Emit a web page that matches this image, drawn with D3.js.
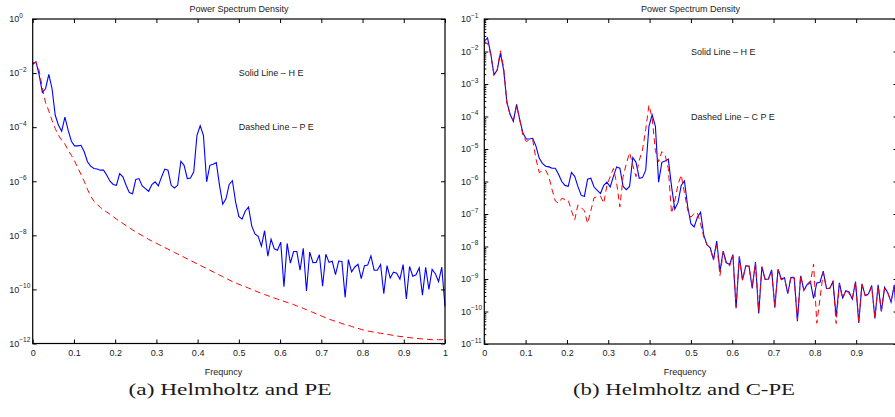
<!DOCTYPE html>
<html lang="en">
<head>
<meta charset="UTF-8"/>
<title>Power Spectrum Density</title>
<script src="https://cdnjs.cloudflare.com/ajax/libs/d3/7.8.5/d3.min.js"></script>
<style>
	body { margin: 0; background: #fff; }
	svg text { font-family: "Liberation Sans", Arial, sans-serif; fill: #222; }
	svg text.caption { font-family: "Liberation Serif", "DejaVu Serif", serif; fill: #1a1a1a; }
</style>
</head>
<body>
<script>

var w = 895;
var h = 417;

// frequency bins 0..1 (129 bins)
var nBins = 129;
var freq = d3.range(nBins).map(function(i){ return i / (nBins - 1); });

// log10 of the PSD values
var heLog = [
	-1.68,-1.58,-2.07,-2.72,-2.57,-2.05,-2.57,-3.56,-3.93,-4.15,
	-3.63,-4.11,-4.52,-4.69,-4.69,-4.67,-4.91,-5.28,-5.44,-5.53,
	-5.55,-5.59,-5.59,-5.78,-6.00,-6.12,-6.15,-5.72,-5.84,-6.15,
	-6.42,-6.46,-5.93,-5.90,-6.17,-6.27,-6.37,-6.12,-6.02,-6.17,
	-5.84,-5.55,-5.59,-6.15,-6.25,-6.15,-5.26,-5.41,-5.90,-5.88,
	-5.65,-4.30,-3.95,-4.30,-6.02,-5.41,-5.37,-5.31,-6.15,-6.85,
	-6.65,-6.12,-5.98,-6.77,-7.30,-7.40,-7.10,-6.95,-7.65,-7.95,
	-8.04,-8.40,-7.83,-8.77,-8.14,-8.50,-8.55,-8.25,-9.90,-8.30,
	-9.03,-8.60,-8.60,-9.29,-8.48,-10.06,-8.62,-9.01,-9.00,-8.72,
	-9.88,-8.70,-9.00,-8.96,-9.45,-8.95,-8.97,-10.30,-8.90,-9.35,
	-9.17,-9.07,-9.60,-9.12,-9.10,-8.76,-9.29,-9.29,-9.08,-10.16,
	-9.12,-9.58,-9.36,-9.40,-9.62,-9.08,-10.35,-9.15,-9.51,-9.46,
	-9.20,-10.21,-9.18,-10.00,-9.26,-9.42,-9.71,-9.18,-10.63
];

var peLog = [
	-1.62,-1.60,-1.90,-2.55,-3.10,-3.40,-3.75,-4.05,-4.30,-4.48,
	-4.62,-4.85,-5.04,-5.25,-5.50,-5.75,-6.00,-6.30,-6.55,-6.74,
	-6.85,-6.97,-7.06,-7.14,-7.22,-7.31,-7.40,-7.48,-7.56,-7.64,
	-7.72,-7.80,-7.87,-7.94,-8.01,-8.08,-8.15,-8.21,-8.27,-8.33,
	-8.39,-8.45,-8.51,-8.57,-8.63,-8.69,-8.75,-8.81,-8.87,-8.93,
	-8.99,-9.05,-9.11,-9.17,-9.23,-9.29,-9.35,-9.41,-9.47,-9.53,
	-9.59,-9.65,-9.71,-9.76,-9.81,-9.86,-9.90,-9.95,-10.00,-10.05,
	-10.10,-10.14,-10.19,-10.23,-10.28,-10.32,-10.36,-10.40,-10.44,-10.48,
	-10.52,-10.56,-10.61,-10.65,-10.70,-10.75,-10.80,-10.85,-10.90,-10.95,
	-11.00,-11.05,-11.10,-11.14,-11.18,-11.22,-11.26,-11.30,-11.33,-11.37,
	-11.41,-11.44,-11.48,-11.51,-11.54,-11.56,-11.58,-11.60,-11.62,-11.64,
	-11.66,-11.68,-11.70,-11.72,-11.74,-11.75,-11.77,-11.78,-11.80,-11.81,
	-11.82,-11.83,-11.84,-11.85,-11.86,-11.86,-11.86,-11.86,-11.85
];

var cpeLog = [
	-1.77,-1.74,-2.10,-2.72,-2.55,-1.98,-2.50,-3.59,-3.95,-4.11,
	-3.68,-4.10,-4.60,-4.77,-4.72,-4.72,-5.30,-5.72,-5.68,-5.65,
	-5.85,-6.25,-6.60,-6.67,-6.52,-6.55,-6.57,-6.90,-7.18,-6.72,
	-6.80,-6.90,-7.29,-6.90,-6.50,-6.47,-6.45,-6.67,-6.11,-5.85,
	-5.60,-6.05,-6.78,-5.85,-5.45,-5.11,-5.50,-5.85,-5.35,-5.03,
	-4.40,-3.65,-4.05,-5.05,-5.39,-5.08,-5.18,-5.60,-6.98,-6.60,
	-6.10,-5.80,-6.35,-6.88,-7.10,-6.98,-6.96,-7.30,-7.72,-7.95,
	-8.06,-8.42,-7.90,-8.90,-8.16,-8.55,-8.60,-8.28,-9.85,-8.33,
	-9.05,-8.58,-8.62,-9.25,-8.50,-10.00,-8.64,-9.03,-9.02,-8.74,
	-9.85,-8.72,-9.03,-8.98,-9.42,-8.92,-8.95,-10.25,-8.88,-9.34,
	-9.18,-9.13,-8.54,-10.36,-9.60,-8.80,-9.30,-9.28,-9.06,-10.37,
	-9.15,-9.62,-9.34,-9.45,-9.60,-9.10,-10.30,-9.18,-9.52,-9.48,
	-9.24,-10.18,-9.22,-9.98,-9.28,-9.44,-9.70,-9.21,-9.85
];

var xTicks = [0, 0.1, 0.2, 0.3, 0.4, 0.5, 0.6, 0.7, 0.8, 0.9, 1];
var xTickLabels = ["0", "0.1", "0.2", "0.3", "0.4", "0.5", "0.6", "0.7", "0.8", "0.9", "1"];
var leftExps = [0, -2, -4, -6, -8, -10, -12];
var rightExps = [-1, -2, -3, -4, -5, -6, -7, -8, -9, -10, -11];

var titles = ["Power Spectrum Density", "Power Spectrum Density"];
var xLabels = ["Frequncy", "Frequency"];
var captions = ["(a) Helmholtz and PE", "(b) Helmholtz and C-PE"];
var notes = [["Solid Line \u2013 H E", "Dashed Line \u2013 P E"],
			 ["Solid Line \u2013 H E", "Dashed Line \u2013 C P E"]];

var svg = d3.select("body")
			.append("svg")
			.attr("width", w)
			.attr("height", h);

svg.append("rect").attr("width", w).attr("height", h).attr("fill", "#fff");

function drawPanel(p) {
	var x = d3.scaleLinear().domain([0, 1]).range([p.left, p.right]);
	var y = d3.scaleLog().domain([Math.pow(10, p.expMin), Math.pow(10, p.expMax)]).range([p.bottom, p.top]);
	var g = svg.append("g");

	var line = d3.line()
				.x(function(d, i){ return x(freq[i]); })
				.y(function(d){ return y(Math.pow(10, d)); });

	g.append("path")
		.datum(heLog)
		.attr("d", line)
		.attr("fill", "none")
		.attr("stroke", "#0000ff")
		.attr("stroke-width", 1.1);

	g.append("path")
		.datum(p.dashed)
		.attr("d", line)
		.attr("fill", "none")
		.attr("stroke", "#ff0000")
		.attr("stroke-width", 1)
		.attr("stroke-dasharray", "6,4");

	// ticks, all pointing inwards
	var tk = 4;
	// only label ticks that fit inside the picture
	var shown = xTicks.filter(function(d){ return x(d) < w - 3; });
	g.append("g").attr("transform", "translate(0," + p.bottom + ")")
		.call(d3.axisBottom(x).tickValues(xTicks).tickSizeInner(-tk).tickSizeOuter(0).tickPadding(6)
			.tickFormat(function(d, i){ return shown.indexOf(d) >= 0 ? xTickLabels[i] : ""; }));
	g.append("g").attr("transform", "translate(0," + p.top + ")")
		.call(d3.axisTop(x).tickValues(xTicks).tickSizeInner(-tk).tickSizeOuter(0).tickFormat(""));

	var yVals = p.exps.map(function(e){ return Math.pow(10, e); });
	g.append("g").attr("transform", "translate(" + p.left + ",0)")
		.call(d3.axisLeft(y).tickValues(yVals).tickSizeInner(-tk).tickSizeOuter(0).tickFormat(""));
	g.append("g").attr("transform", "translate(" + p.right + ",0)")
		.call(d3.axisRight(y).tickValues(yVals).tickSizeInner(-tk).tickSizeOuter(0).tickFormat(""));

	if (p.minor) {
		var minors = [];
		for (var e = p.expMin; e < p.expMax; e++) {
			for (var m = 2; m < 10; m++) minors.push(m * Math.pow(10, e));
		}
		g.append("g").attr("transform", "translate(" + p.left + ",0)")
			.call(d3.axisLeft(y).tickValues(minors).tickSizeInner(-2).tickSizeOuter(0).tickFormat(""));
		g.append("g").attr("transform", "translate(" + p.right + ",0)")
			.call(d3.axisRight(y).tickValues(minors).tickSizeInner(-2).tickSizeOuter(0).tickFormat(""));
	}

	g.selectAll(".domain").remove();
	g.selectAll(".tick line").attr("stroke", "#000");
	g.selectAll(".tick text").attr("font-size", 9).attr("fill", "#222")
		.style("font-family", "'Liberation Sans', Arial, sans-serif");

	// box
	g.append("rect")
		.attr("x", p.left).attr("y", p.top)
		.attr("width", p.right - p.left).attr("height", p.bottom - p.top)
		.attr("fill", "none").attr("stroke", "#000").attr("stroke-width", 1.2);

	// y tick labels 10^e
	p.exps.forEach(function(e){
		var t = g.append("text")
				.attr("x", p.labelX)
				.attr("y", y(Math.pow(10, e)) + 3.3)
				.attr("font-size", 9);
		t.append("tspan").text("10");
		t.append("tspan")
			.attr("dy", -4.5)
			.attr("font-size", 6.5)
			.text(e === 0 ? "0" : "\u2212" + Math.abs(e));
	});

	g.append("text")
		.attr("x", p.titleX).attr("y", 12)
		.attr("text-anchor", "middle").attr("font-size", 9)
		.text(p.title);

	g.append("text")
		.attr("x", x(0.5)).attr("y", y(1e-2) + 3.3)
		.attr("font-size", 9)
		.text(p.notes[0]);
	g.append("text")
		.attr("x", x(0.5)).attr("y", y(1e-4) + 3.3)
		.attr("font-size", 9)
		.text(p.notes[1]);

	g.append("text")
		.attr("x", p.xLabelX).attr("y", 375)
		.attr("text-anchor", "middle").attr("font-size", 9)
		.text(p.xLabel);

	g.append("text")
		.attr("class", "caption")
		.attr("x", p.capX - p.capW / 2).attr("y", 395)
		.attr("font-size", 16)
		.attr("textLength", p.capW)
		.attr("lengthAdjust", "spacingAndGlyphs")
		.text(p.caption);
}

drawPanel({
	left: 32.7, right: 445, top: 19, bottom: 343.5,
	expMin: -12, expMax: 0, exps: leftExps, minor: false,
	dashed: peLog, labelX: 9.3, titleX: 239,
	title: titles[0], notes: notes[0], xLabel: xLabels[0], xLabelX: 223.5,
	caption: captions[0], capX: 230, capW: 203
});

drawPanel({
	left: 484.3, right: 897.5, top: 19, bottom: 344,
	expMin: -11, expMax: -1, exps: rightExps, minor: true,
	dashed: cpeLog, labelX: 461, titleX: 690.5,
	title: titles[1], notes: notes[1], xLabel: xLabels[1], xLabelX: 685,
	caption: captions[1], capX: 684, capW: 222
});

</script>
</body>
</html>
